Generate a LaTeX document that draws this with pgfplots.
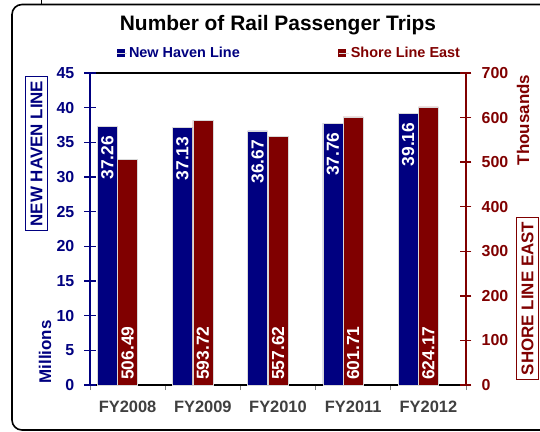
\documentclass[border=0pt]{standalone}
\usepackage{pgfplots}
\pgfplotsset{compat=1.18}
\usepackage{pgfplotstable}
\usepackage{fontspec}
\setmainfont{Liberation Sans}

\definecolor{nhl}{HTML}{000080}
\definecolor{sle}{HTML}{800000}
\definecolor{catgray}{HTML}{404040}

% ridership: New Haven Line in millions, Shore Line East in thousands
\pgfplotstableread{
x nhl sle
0 37.26 506.49
1 37.13 593.72
2 36.67 557.62
3 37.76 601.71
4 39.16 624.17
}\railtrips

\newcommand{\fs}[1]{\fontsize{#1}{#1}\selectfont\bfseries}

\pgfplotsset{
  railbase/.style={
    at={(0bp,0bp)}, anchor=south west,
    width=376bp, height=312bp, scale only axis,
    xmin=-0.5, xmax=4.5,
    /pgf/number format/assume math mode=true,
    tick align=center, major tick length=11bp,
  },
}
\tikzset{
  barlabel/.style={rotate=90, anchor=west, text=white,
    font=\fs{17.5}, inner sep=5bp,
    /pgf/number format/.cd, fixed, fixed zerofill, precision=2},
}

\begin{document}
\begin{tikzpicture}
\useasboundingbox (-90bp,-47bp) rectangle (450bp,385bp);
% outer frame
\draw[line width=1.6bp, rounded corners=10bp] (-78bp,-45bp) rectangle (700bp,380.5bp);
\draw[line width=1bp] (-48.5bp,385bp) -- (-48.5bp,380.5bp);

% category axis
\begin{axis}[railbase,
  ymin=0, ymax=1,
  axis x line*=box, axis y line=none,
  x axis line style={black, line width=1.2bp, -},
  xtick={0,1,2,3,4},
  xticklabels={FY2008,FY2009,FY2010,FY2011,FY2012},
  xtick pos=bottom,
  major x tick style={draw=none},
  minor xtick={-0.5,0.5,1.5,2.5,3.5,4.5},
  minor x tick style={gray, line width=0.8bp},
  minor tick length=5bp,
  tick align=outside,
  xticklabel style={catgray, font=\fs{16.5}, yshift=-1.5bp},
  ytick=\empty,
]
\end{axis}

% New Haven Line, left axis
\begin{axis}[railbase,
  ymin=0, ymax=45,
  axis x line=none, axis y line*=left,
  y axis line style={nhl, line width=1.5bp, -},
  ytick={0,5,...,45},
  y tick style={nhl, line width=1.5bp},
  yticklabel style={nhl, font=\fs{16}, inner xsep=10bp},
  xtick=\empty,
  legend style={draw=none, fill=none, at={(0.07,1.064)}, anchor=west,
    font=\fs{14.5}, text=nhl, inner sep=0pt},
]
\addplot[ybar, bar width=0.265, bar shift=0, fill=nhl, draw=white!70!gray,
  line width=0.5bp,
  legend image code/.code={\fill[nhl] (0bp,-3.5bp) rectangle (7bp,3.5bp);
    \path (0bp,0bp) -- (10bp,0bp);},
  nodes near coords,
  every node near coord/.append style={shift={(0bp,-58bp)}, barlabel},
] table[x expr=\thisrow{x}-0.27, y=nhl] {\railtrips};
\addlegendentry{New Haven Line}
\end{axis}

% Shore Line East, right axis
\begin{axis}[railbase,
  ymin=0, ymax=700,
  axis x line=none, axis y line*=right,
  y axis line style={sle, line width=1.5bp, -},
  ytick={0,100,...,700},
  y tick style={sle, line width=1.5bp},
  yticklabel style={sle, font=\fs{16}, inner xsep=10bp},
  xtick=\empty,
  legend style={draw=none, fill=none, at={(0.66,1.064)}, anchor=west,
    font=\fs{14.5}, text=sle, inner sep=0pt},
]
\addplot[ybar, bar width=0.265, bar shift=0, fill=sle, draw=white!70!gray,
  line width=0.5bp,
  legend image code/.code={\fill[sle] (0bp,-3.5bp) rectangle (7bp,3.5bp);
    \path (0bp,0bp) -- (10bp,0bp);},
  visualization depends on=y \as \rawy,
  nodes near coords,
  every node near coord/.append style={shift={(axis direction cs:0,-\rawy)},
    barlabel},
] table[x=x, y=sle] {\railtrips};
\addlegendentry{Shore Line East}
\end{axis}

% titles and axis labels
\node[font=\fs{21}] at (188bp,360bp) {Number of Rail Passenger Trips};
\node[rotate=90, font=\fs{17}, text=nhl] at (-45bp,33bp) {Millions};
\node[rotate=90, font=\fs{17}, text=nhl, draw=nhl, line width=1.3bp,
  inner xsep=4bp, inner ysep=5bp] at (-53.5bp,231.5bp) {NEW HAVEN LINE};
\node[rotate=90, font=\fs{17}, text=sle] at (433bp,265bp) {Thousands};
\node[rotate=90, font=\fs{17}, text=sle, draw=sle, line width=1.3bp,
  inner xsep=4bp, inner ysep=5bp] at (437.5bp,86.5bp) {SHORE LINE EAST};
\end{tikzpicture}
\end{document}
